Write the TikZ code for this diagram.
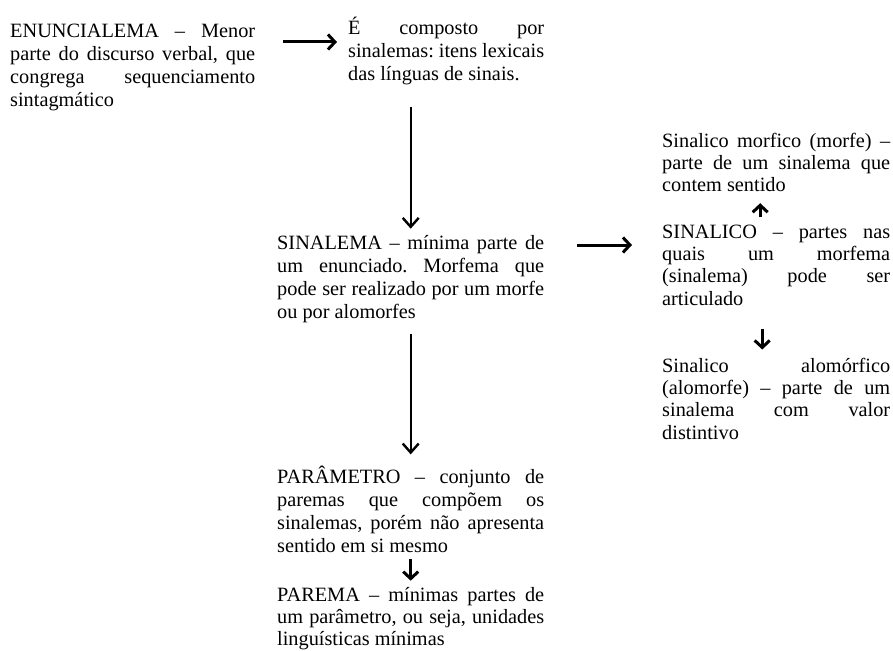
\documentclass[tikz,border=0pt]{standalone}
\usepackage{fontspec}
\setmainfont{Liberation Serif}
\usetikzlibrary{arrows.meta}
\tolerance=10000
\hyphenpenalty=10000
\frenchspacing

\begin{document}
\begin{tikzpicture}[x=1pt, y=-1pt,
  txt/.style={anchor=base west, inner sep=0pt, align=justify, font=\fontsize{20.3}{23}\selectfont},
  side/.style={txt, font=\fontsize{20.3}{22.4}\selectfont},
  link/.style={line width=3pt, -{Straight Barb[length=7pt,width=15pt]}},
  longlink/.style={line width=2.4pt, -{Straight Barb[length=9pt,width=16pt]}}]
\useasboundingbox (0,0) rectangle (893,650);

\node[txt, text width=245pt] (enunc) at (10,37.5) {ENUNCIALEMA -- Menor\linebreak parte do discurso verbal, que\linebreak congrega sequenciamento\linebreak sintagmático};
\node[txt, text width=196pt] (compos) at (348,35) {É composto por\linebreak sinalemas: itens lexicais\linebreak das línguas de sinais.};

\node[txt, text width=267pt] (sinal) at (277,249) {SINALEMA -- mínima parte de\linebreak um enunciado. Morfema que\linebreak pode ser realizado por um morfe\linebreak ou por alomorfes};
\node[txt, text width=267pt] (param) at (277,483) {PARÂMETRO -- conjunto de\linebreak paremas que compõem os\linebreak sinalemas, porém não apresenta\linebreak sentido em si mesmo};
\node[side, text width=267pt] (parema) at (277,601) {PAREMA -- mínimas partes de\linebreak um parâmetro, ou seja, unidades\linebreak linguísticas mínimas};

\node[side, text width=228pt] (morf) at (662,147) {Sinalico morfico (morfe) --\linebreak parte de um sinalema que\linebreak contem sentido};
\node[side, text width=228pt] (sinalico) at (662,238) {SINALICO -- partes nas\linebreak quais um morfema\linebreak (sinalema) pode ser\linebreak articulado};
\node[side, text width=228pt] (alomorf) at (662,372) {Sinalico alomórfico\linebreak (alomorfe) -- parte de um\linebreak sinalema com valor\linebreak distintivo};

\coordinate (row1) at (0,42);
\coordinate (row2) at (0,245);

\draw[link, shorten <=28pt, shorten >=11pt] (enunc.east |- row1) -- (compos.west |- row1);
\draw[longlink, shorten <=21pt, shorten >=6pt] (sinal.north |- compos.south) -- (sinal.north);
\draw[longlink, shorten <=11pt, shorten >=11pt] (sinal.south) -- (param.north);
\draw[link, shorten <=7pt, shorten >=6pt] (param.south) -- (parema.north);
\draw[link, shorten <=33pt, shorten >=30pt] (sinal.east |- row2) -- (sinalico.west |- row2);
\draw[link, shorten <=7pt, shorten >=11pt] ([xshift=-16pt]sinalico.north) -- ([xshift=-16pt]morf.south);
\draw[link, shorten <=23pt, shorten >=8pt] ([xshift=-14pt]sinalico.south) -- ([xshift=-14pt]alomorf.north);
\end{tikzpicture}
\end{document}
